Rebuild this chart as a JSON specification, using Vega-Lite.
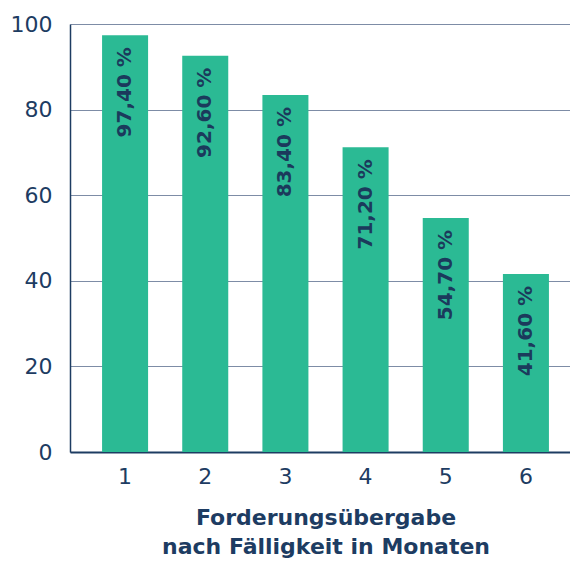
{
  "$schema": "https://vega.github.io/schema/vega-lite/v6.json",
  "width": 511,
  "height": 428,
  "autosize": "none",
  "padding": {"left": 70, "top": 24, "right": 0, "bottom": 109},
  "background": "white",
  "config": {
    "view": {"stroke": null},
    "font": "DejaVu Sans"
  },
  "data": {
    "values": [
      {"monat": "1", "wert": 97.4, "label": "97,40 %"},
      {"monat": "2", "wert": 92.6, "label": "92,60 %"},
      {"monat": "3", "wert": 83.4, "label": "83,40 %"},
      {"monat": "4", "wert": 71.2, "label": "71,20 %"},
      {"monat": "5", "wert": 54.7, "label": "54,70 %"},
      {"monat": "6", "wert": 41.6, "label": "41,60 %"}
    ]
  },
  "encoding": {
    "x": {
      "field": "monat",
      "type": "ordinal",
      "scale": {"paddingInner": 0.426, "paddingOuter": 0.4},
      "axis": {
        "title": ["Forderungsübergabe", "nach Fälligkeit in Monaten"],
        "titleFont": "DejaVu Sans",
        "titleFontSize": 22,
        "titleFontWeight": "bold",
        "titleColor": "#1d3c62",
        "titleLineHeight": 29,
        "titlePadding": 20,
        "labelAngle": 0,
        "labelFontSize": 22,
        "labelColor": "#1d3c62",
        "labelPadding": 14,
        "ticks": false,
        "domainColor": "#1d3c62",
        "domainWidth": 2
      }
    },
    "y": {
      "field": "wert",
      "type": "quantitative",
      "scale": {"domain": [0, 100]},
      "axis": {
        "title": null,
        "values": [0, 20, 40, 60, 80, 100],
        "labelFontSize": 22,
        "labelColor": "#1d3c62",
        "labelPadding": 18,
        "ticks": false,
        "domainColor": "#1d3c62",
        "domainWidth": 1.5,
        "gridColor": "#7d8ca6",
        "gridWidth": 1.2,
        "gridOpacity": 1
      }
    }
  },
  "layer": [
    {"mark": {"type": "bar", "color": "#2bba94"}},
    {
      "mark": {
        "type": "text",
        "angle": 270,
        "align": "right",
        "baseline": "middle",
        "dx": -12,
        "fontSize": 20,
        "fontWeight": "bold",
        "color": "#1b3a5c"
      },
      "encoding": {"text": {"field": "label"}}
    }
  ]
}
